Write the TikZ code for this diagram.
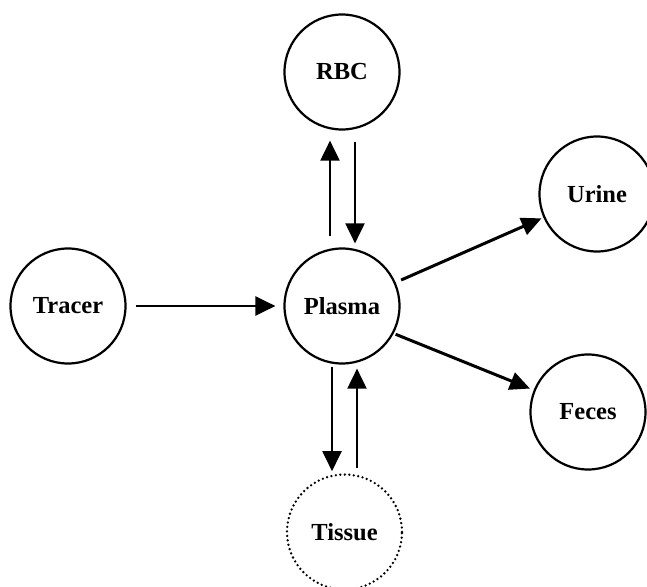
\documentclass[tikz,border=0pt]{standalone}
\usepackage{fontspec}
\setmainfont{Liberation Serif}
\usetikzlibrary{arrows.meta}

\begin{document}
\begin{tikzpicture}[
    x=1pt, y=-1pt,
    pool/.style={circle, draw, line width=2.2pt, minimum size=115pt, inner sep=0pt, font=\bfseries\fontsize{24.5}{30}\selectfont},
    tissuepool/.style={pool, line width=2.6pt, dash pattern=on 0pt off 4.5pt, line cap=round},
    flow/.style={line width=2pt, -{Triangle[length=20pt, width=19pt]}},
    outflow/.style={flow, line width=3pt, -{Triangle[length=20pt, width=18pt]}},
]
\useasboundingbox (0,0) rectangle (647,586);

% Compartments
\node[pool] (plasma) at (342,306) {Plasma};
\node[pool] (rbc) at (342,72) {RBC};
\node[pool] (tracer) at (68,306) {Tracer};
\node[pool] (urine) at (597,194) {Urine};
\node[pool] (feces) at (588,412) {Feces};
\node[tissuepool] (tissue) at (344.5,532) {Tissue};

% Input
\draw[flow, line width=2.4pt, shorten <=9pt, shorten >=8pt] (tracer) -- (plasma);

% Exchange with RBC
\draw[flow, shorten <=11pt, shorten >=10pt] ([xshift=-12pt]plasma.north) -- ([xshift=-12pt]rbc.south);
\draw[flow, shorten <=11pt, shorten >=4pt] ([xshift=13pt]rbc.south) -- ([xshift=13pt]plasma.north);

% Exchange with tissue
\draw[flow, shorten <=2pt, shorten >=2pt] ([xshift=-10pt]plasma.south) -- ([xshift=-12.5pt]tissue.north);
\draw[flow, shorten <=5pt, shorten >=4pt] ([xshift=12.5pt]tissue.north) -- ([xshift=15pt]plasma.south);

% Excretion
\draw[outflow, shorten <=6pt, shorten >=2pt] (plasma) -- (urine);
\draw[outflow, shorten <=2pt, shorten >=4pt] (plasma.-28) -- (feces);

\end{tikzpicture}
\end{document}
